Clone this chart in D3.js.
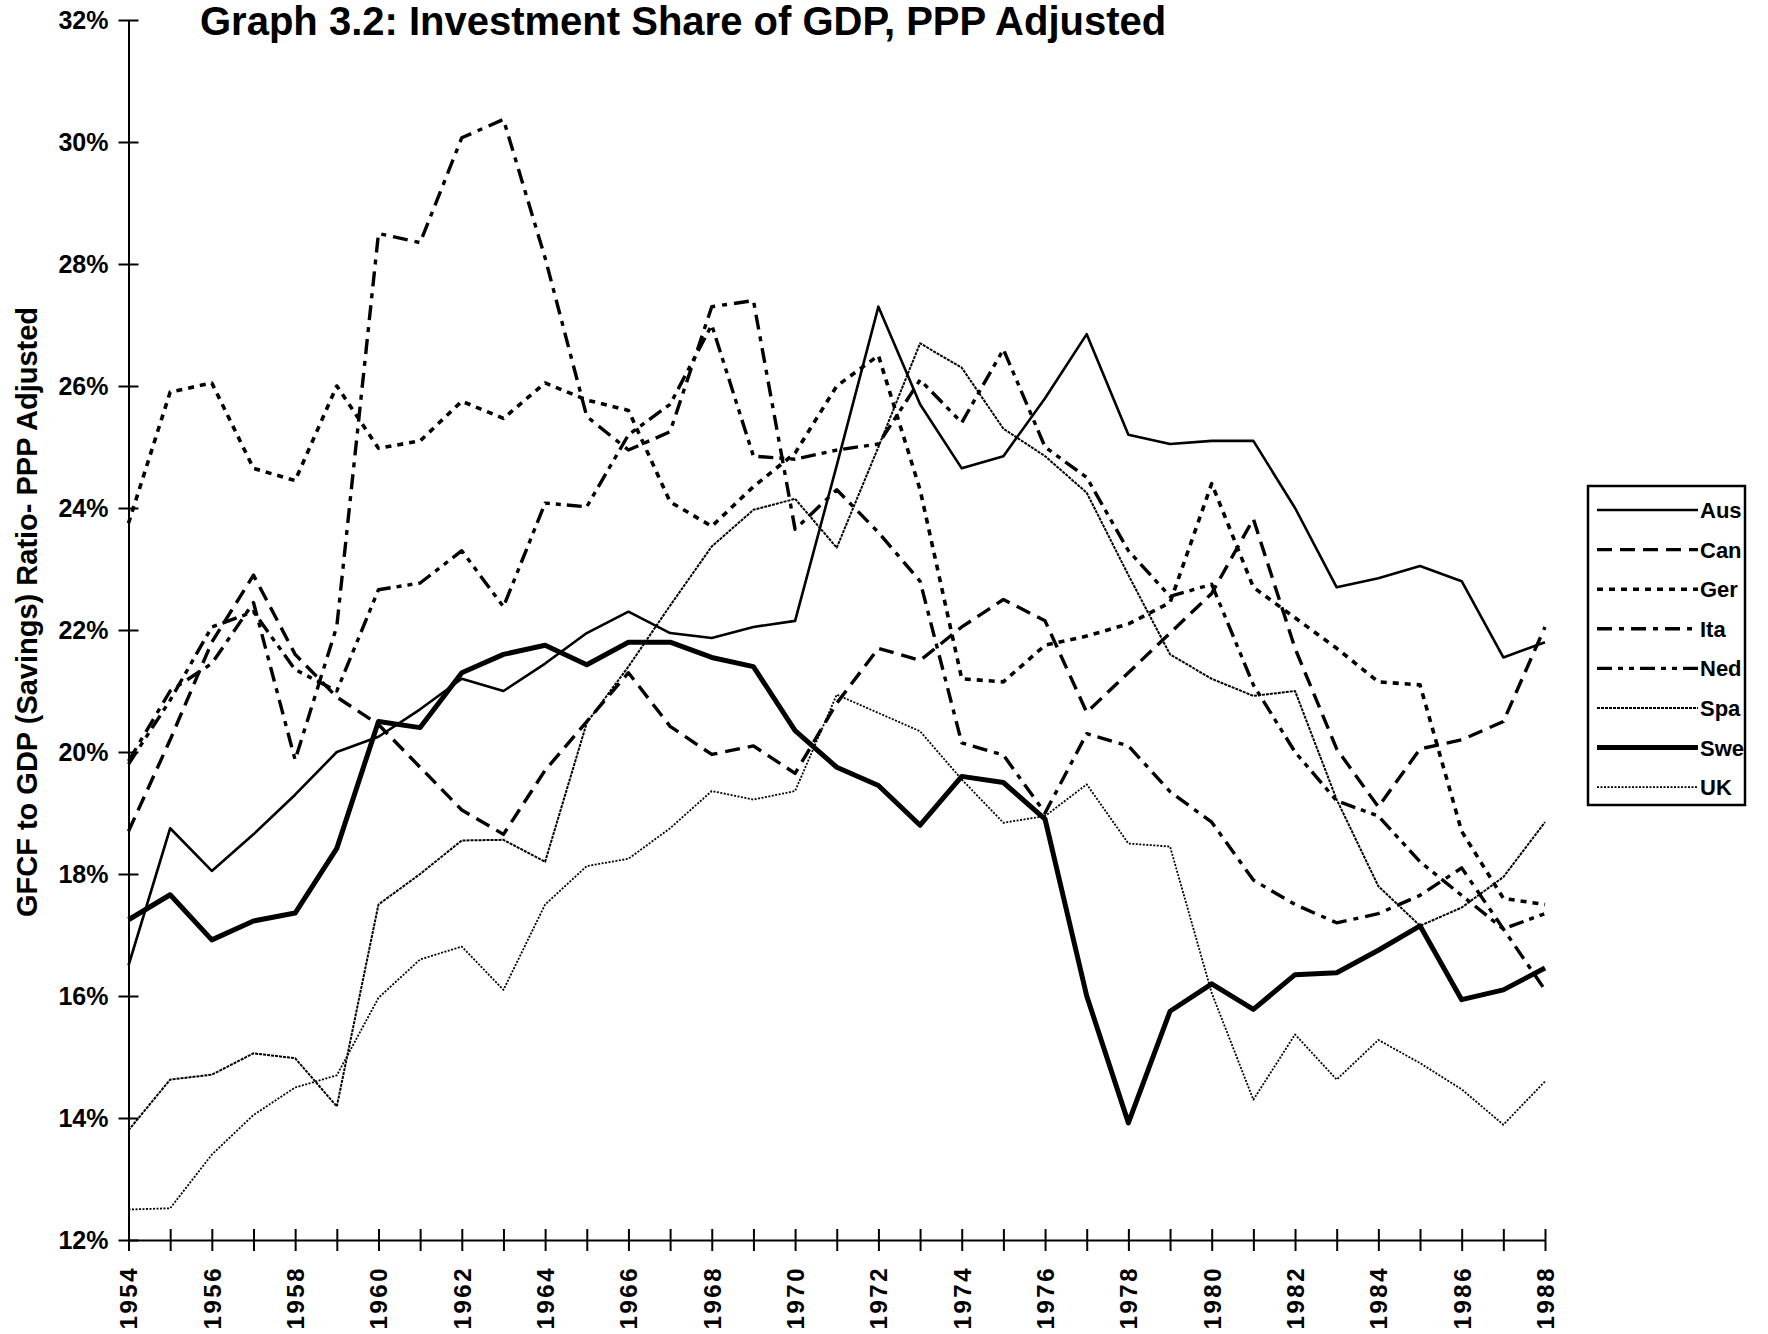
<!DOCTYPE html>
<html>
<head>
<meta charset="utf-8">
<script src="https://cdn.jsdelivr.net/npm/d3@7"></script>
<style>
  body { margin: 0; background: #fff; }
  svg text { font-family: "Liberation Sans", Arial, Helvetica, sans-serif; font-weight: bold; fill: #000; }
</style>
</head>
<body>
<div id="chart"></div>
<script>
const years = [1954, 1955, 1956, 1957, 1958, 1959, 1960, 1961, 1962, 1963, 1964, 1965, 1966, 1967, 1968, 1969, 1970,
    1971, 1972, 1973, 1974, 1975, 1976, 1977, 1978, 1979, 1980, 1981, 1982, 1983, 1984, 1985, 1986, 1987, 1988];

const aus = [16.5, 18.75, 18.05, 18.65, 19.3, 20.0, 20.25, 20.7, 21.2, 21.0, 21.45, 21.95, 22.3, 21.95, 21.87, 22.05, 22.15,
    24.7, 27.3, 25.7, 24.65, 24.85, 25.8, 26.85, 25.2, 25.05, 25.1, 25.1, 24.0, 22.7, 22.85, 23.05, 22.8, 21.55, 21.8];
const can = [18.7, 20.2, 21.8, 22.9, 21.6, 20.9, 20.45, 19.75, 19.05, 18.65, 19.7, 20.5, 21.3, 20.42, 19.96, 20.1, 19.65,
    20.8, 21.7, 21.5, 22.05, 22.5, 22.15, 20.65, 21.3, 21.95, 22.6, 23.82, 21.7, 20.05, 19.1, 20.05, 20.2, 20.5, 22.05];
const ger = [23.75, 25.9, 26.05, 24.65, 24.45, 26.0, 24.98, 25.1, 25.75, 25.47, 26.05, 25.77, 25.6, 24.1, 23.7, 24.35, 24.9,
    26.0, 26.5, 24.3, 21.2, 21.15, 21.75, 21.9, 22.1, 22.45, 24.4, 22.7, 22.2, 21.7, 21.15, 21.1, 18.7, 17.6, 17.5];
const ita = [19.85, 21.0, 21.45, 22.45, 19.87, 22.06, 28.5, 28.35, 30.07, 30.37, 28.1, 25.5, 24.95, 25.25, 27.3, 27.4, 23.65,
    24.3, 23.6, 22.8, 20.15, 19.95, 19.0, 20.3, 20.1, 19.35, 18.85, 17.9, 17.5, 17.2, 17.35, 17.65, 18.1, 17.1, 16.1];
const ned = [19.8, 20.85, 22.05, 22.3, 21.35, 21.0, 22.66, 22.77, 23.3, 22.38, 24.08, 24.02, 25.2, 25.7, 27.0, 24.85, 24.8,
    24.95, 25.05, 26.1, 25.4, 26.6, 25.0, 24.5, 23.3, 22.55, 22.75, 21.1, 20.0, 19.2, 18.95, 18.2, 17.65, 17.1, 17.35];
const spa = [13.8, 14.63, 14.71, 15.06, 14.98, 14.19, 17.5, 18.0, 18.55, 18.56, 18.2, 20.48, 21.4, 22.4, 23.37, 23.97, 24.15,
    23.35, 25.0, 26.7, 26.3, 25.3, 24.85, 24.25, 22.9, 21.6, 21.2, 20.92, 21.0, 19.22, 17.8, 17.15, 17.45, 17.95, 18.85];
const swe = [17.25, 17.66, 16.92, 17.23, 17.36, 18.42, 20.5, 20.4, 21.3, 21.6, 21.75, 21.43, 21.8, 21.8, 21.55, 21.4, 20.35,
    19.75, 19.45, 18.8, 19.6, 19.5, 18.9, 16.0, 13.92, 15.75, 16.2, 15.78, 16.35, 16.38, 16.75, 17.15, 15.94, 16.1, 16.46];
const uk = [12.5, 12.52, 13.4, 14.05, 14.5, 14.7, 15.97, 16.6, 16.81, 16.1, 17.5, 18.13, 18.25, 18.75, 19.36, 19.22, 19.36,
    20.94, 20.64, 20.34, 19.55, 18.84, 18.95, 19.47, 18.5, 18.45, 16.05, 14.3, 15.37, 14.63, 15.28, 14.9, 14.47, 13.89, 14.6];

const yTicks = [12, 14, 16, 18, 20, 22, 24, 26, 28, 30, 32];
const xLabels = [1954, 1956, 1958, 1960, 1962, 1964, 1966, 1968, 1970, 1972, 1974, 1976, 1978, 1980, 1982, 1984, 1986, 1988];

const series = [
    { name: "Aus", values: aus, width: 2.6, dash: null },
    { name: "Can", values: can, width: 3.4, dash: "15,8" },
    { name: "Ger", values: ger, width: 3.6, dash: "6,6" },
    { name: "Ita", values: ita, width: 3.4, dash: "15,7,5,7" },
    { name: "Ned", values: ned, width: 3.4, dash: "15,6,5,6,5,6" },
    { name: "Spa", values: spa, width: 2, dash: "3,1" },
    { name: "Swe", values: swe, width: 5, dash: null },
    { name: "UK", values: uk, width: 1.8, dash: "2,1.5" }
];

const svgWidth = 1768;
const svgHeight = 1334;

const svg = d3.select("#chart")
    .append("svg")
    .attr("width", svgWidth)
    .attr("height", svgHeight)
    .attr("viewBox", `0 0 ${svgWidth} ${svgHeight}`);

svg.append("rect").attr("width", svgWidth).attr("height", svgHeight).attr("fill", "#fff");

const x = d3.scaleLinear().domain([1954, 1988]).range([128.5, 1545]);
const y = d3.scaleLinear().domain([12, 32]).range([1240, 20]);

// title
svg.append("text")
    .attr("x", 200)
    .attr("y", 35)
    .attr("font-size", 40)
    .text("Graph 3.2: Investment Share of GDP, PPP Adjusted");

// y axis
const yAxis = svg.append("g")
    .attr("transform", `translate(${x(1954)},0)`)
    .call(d3.axisLeft(y).tickValues(yTicks).tickFormat(d => d + "%").tickSize(0).tickPadding(20));
yAxis.select(".domain").attr("stroke", "#000").attr("stroke-width", 2);
yAxis.selectAll(".tick line").attr("x1", -10).attr("x2", 10).attr("stroke", "#000").attr("stroke-width", 2);
yAxis.selectAll(".tick text").attr("font-size", 25).attr("font-family", null);

svg.append("text")
    .attr("transform", `translate(37,${612}) rotate(-90)`)
    .attr("text-anchor", "middle")
    .attr("font-size", 29)
    .text("GFCF to GDP (Savings) Ratio- PPP Adjusted");

// x axis
const xAxis = svg.append("g")
    .attr("transform", `translate(0,${y(12)})`)
    .call(d3.axisBottom(x).tickValues(years).tickFormat(d => xLabels.includes(d) ? d : "").tickSize(0));
xAxis.select(".domain").attr("stroke", "#000").attr("stroke-width", 2);
xAxis.selectAll(".tick line").attr("y1", -11).attr("y2", 11).attr("stroke", "#000").attr("stroke-width", 2);
xAxis.selectAll(".tick text")
    .attr("font-size", 24)
    .attr("font-family", null)
    .attr("letter-spacing", 2.5)
    .attr("text-anchor", "end")
    .attr("dy", "0.35em")
    .attr("transform", "translate(0,26) rotate(-90)")
    .attr("x", 0)
    .attr("y", 0);

// lines
const line = d3.line()
    .x((d, i) => x(years[i]))
    .y(d => y(d));

svg.append("g").selectAll("path").data(series).enter().append("path")
    .attr("d", d => line(d.values))
    .attr("fill", "none")
    .attr("stroke", "#000")
    .attr("stroke-width", d => d.width)
    .attr("stroke-dasharray", d => d.dash)
    .attr("stroke-linejoin", "round");

// legend
const legend = svg.append("g").attr("transform", "translate(1588,486)");
legend.append("rect")
    .attr("width", 157)
    .attr("height", 319)
    .attr("fill", "#fff")
    .attr("stroke", "#000")
    .attr("stroke-width", 2.5);

const rows = legend.selectAll(".row").data(series).enter().append("g")
    .attr("class", "row")
    .attr("transform", (d, i) => `translate(0,${24 + i * 39.6})`);
rows.append("line")
    .attr("x1", 9).attr("x2", 110)
    .attr("stroke", "#000")
    .attr("stroke-width", d => d.width)
    .attr("stroke-dasharray", d => d.dash);
rows.append("text")
    .attr("x", 112)
    .attr("y", 8)
    .attr("font-size", 22)
    .text(d => d.name);
</script>
</body>
</html>
